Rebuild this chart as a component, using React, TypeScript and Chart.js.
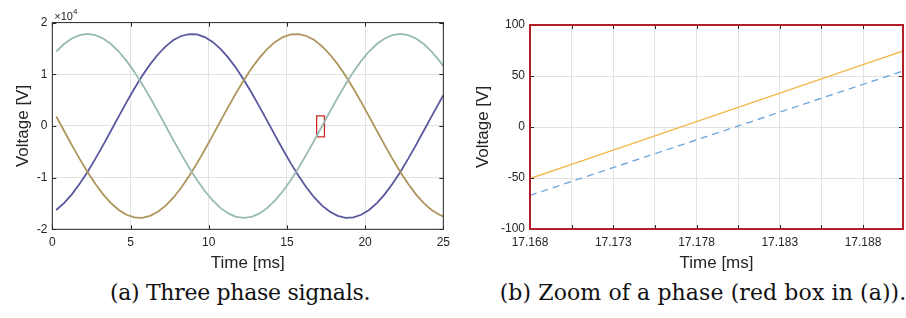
import React, { useEffect, useRef } from "react";
import { Chart, registerables } from "chart.js";
Chart.register(...registerables);

// ---------- (a) three phase signals ----------
const timeMs = [
  0.25, 0.75, 1.25, 1.75, 2.25, 2.75, 3.25, 3.75, 4.25, 4.75, 5.25, 5.75, 6.25, 6.75, 7.25, 7.75,
  8.25, 8.75, 9.25, 9.75, 10.25, 10.75, 11.25, 11.75, 12.25, 12.75, 13.25, 13.75, 14.25, 14.75,
  15.25, 15.75, 16.25, 16.75, 17.25, 17.75, 18.25, 18.75, 19.25, 19.75, 20.25, 20.75, 21.25,
  21.75, 22.25, 22.75, 23.25, 23.75, 24.25, 24.75, 25,
];
const phaseTeal = [
  14401, 15860, 16929, 17581, 17800, 17581, 16929, 15860, 14401, 12587, 10463, 8081, 5501, 2784, 0,
  -2784, -5501, -8081, -10463, -12587, -14401, -15860, -16929, -17581, -17800, -17581, -16929,
  -15860, -14401, -12587, -10463, -8081, -5501, -2784, 0, 2784, 5501, 8081, 10463, 12587, 14401,
  15860, 16929, 17581, 17800, 17581, 16929, 15860, 14401, 12587, 11559,
];
const phasePurple = [
  -16261, -14928, -13228, -11202, -8900, -6379, -3701, -932, 1861, 4607, 7240, 9695, 11911, 13833,
  15415, 16618, 17411, 17776, 17702, 17194, 16261, 14928, 13228, 11202, 8900, 6379, 3701, 932,
  -1861, -4607, -7240, -9695, -11911, -13833, -15415, -16618, -17411, -17776, -17702, -17194,
  -16261, -14928, -13228, -11202, -8900, -6379, -3701, -932, 1861, 4607, 5942,
];
const phaseBrown = [
  1861, -932, -3701, -6379, -8900, -11202, -13228, -14928, -16261, -17194, -17702, -17776, -17411,
  -16618, -15415, -13833, -11911, -9695, -7240, -4607, -1861, 932, 3701, 6379, 8900, 11202, 13228,
  14928, 16261, 17194, 17702, 17776, 17411, 16618, 15415, 13833, 11911, 9695, 7240, 4607, 1861,
  -932, -3701, -6379, -8900, -11202, -13228, -14928, -16261, -17194, -17503,
];
const redBoxT = [16.9, 17.4, 17.4, 16.9, 16.9];
const redBoxV = [-2100, -2100, 1950, 1950, -2100];
const aXTicks = [0, 5, 10, 15, 20, 25];
const aYTicks = [-20000, -10000, 0, 10000, 20000];

// ---------- (b) zoom ----------
const zoomTime = [17.168, 17.1705, 17.173, 17.1755, 17.178, 17.1805, 17.183, 17.1855, 17.188, 17.1905];
const zoomSolid = [-50.5, -36.6, -22.6, -8.7, 5.3, 19.2, 33.2, 47.1, 61.1, 75.0];
const zoomDashed = [-67, -53.4, -39.8, -26.2, -12.6, 1, 14.6, 28.2, 41.8, 55.4];
const zoomXTicks = [17.168, 17.1705, 17.173, 17.1755, 17.178, 17.1805, 17.183, 17.1855, 17.188];
const zoomXLabels = ["17.168", "", "17.173", "", "17.178", "", "17.183", "", "17.188"];
const zoomYTicks = [-100, -50, 0, 50, 100];

const FONT = "'Liberation Sans', Arial, sans-serif";
const TXT = "#262626";
const GRID = "#e2e2e2";

function pts(xs: number[], ys: number[]) {
  return xs.map((x, i) => ({ x, y: ys[i] }));
}

function framePlugin(color: string, lw: number, tickLen: number) {
  return {
    id: "frame",
    afterDatasetsDraw(chart: any) {
      const { ctx, chartArea: a, scales } = chart;
      ctx.save();
      ctx.strokeStyle = TXT;
      ctx.lineWidth = 1;
      ctx.beginPath();
      for (const t of scales.x.ticks) {
        const px = Math.round(scales.x.getPixelForValue(t.value)) + 0.5;
        ctx.moveTo(px, a.bottom);
        ctx.lineTo(px, a.bottom - tickLen);
        ctx.moveTo(px, a.top);
        ctx.lineTo(px, a.top + tickLen);
      }
      for (const t of scales.y.ticks) {
        const py = Math.round(scales.y.getPixelForValue(t.value)) + 0.5;
        ctx.moveTo(a.left, py);
        ctx.lineTo(a.left + tickLen, py);
        ctx.moveTo(a.right, py);
        ctx.lineTo(a.right - tickLen, py);
      }
      ctx.stroke();
      ctx.strokeStyle = color;
      ctx.lineWidth = lw;
      ctx.strokeRect(a.left, a.top, a.right - a.left, a.bottom - a.top);
      ctx.restore();
    },
  };
}

const exponentPlugin = {
  id: "exponent",
  afterDraw(chart: any) {
    const { ctx, chartArea: a } = chart;
    ctx.save();
    ctx.fillStyle = TXT;
    ctx.textBaseline = "alphabetic";
    ctx.font = `11px ${FONT}`;
    ctx.fillText("\u00d710", a.left + 2, a.top - 3);
    const w = ctx.measureText("\u00d710").width;
    ctx.font = `8px ${FONT}`;
    ctx.fillText("4", a.left + 2 + w, a.top - 9);
    ctx.restore();
  },
};

function baseScales(opts: {
  xMin: number; xMax: number; yMin: number; yMax: number;
  xTicks: number[]; xLabel: (v: number, i: number) => string;
  yTicks: number[]; yLabel: (v: number) => string;
  yWidth: number; xHeight: number; yTitlePad: number;
}) {
  return {
    x: {
      type: "linear",
      min: opts.xMin,
      max: opts.xMax,
      afterBuildTicks: (s: any) => { s.ticks = opts.xTicks.map((v) => ({ value: v })); },
      afterFit: (s: any) => { s.height = opts.xHeight; },
      grid: { color: GRID, drawTicks: false, lineWidth: 1 },
      border: { display: false },
      ticks: {
        autoSkip: false, maxRotation: 0, padding: 6, color: TXT,
        font: { family: FONT, size: 12 },
        callback: (v: any, i: number) => opts.xLabel(v, i),
      },
      title: { display: true, text: "Time [ms]", color: TXT, font: { family: FONT, size: 17 }, padding: { top: 0, bottom: 4.5 } },
    },
    y: {
      type: "linear",
      min: opts.yMin,
      max: opts.yMax,
      afterBuildTicks: (s: any) => { s.ticks = opts.yTicks.map((v) => ({ value: v })); },
      afterFit: (s: any) => { s.width = opts.yWidth; },
      grid: { color: GRID, drawTicks: false, lineWidth: 1 },
      border: { display: false },
      ticks: {
        autoSkip: false, padding: 5, color: TXT,
        font: { family: FONT, size: 12 },
        callback: (v: any) => opts.yLabel(v),
      },
      title: { display: true, text: "Voltage [V]", color: TXT, font: { family: FONT, size: 17 }, padding: { top: opts.yTitlePad, bottom: 0 } },
    },
  };
}

function ChartA() {
  const ref = useRef<HTMLCanvasElement>(null);
  useEffect(() => {
    const line = (data: number[], color: string) => ({
      data: pts(timeMs, data), borderColor: color, borderWidth: 1.8, pointRadius: 0, tension: 0, fill: false,
    });
    const chart = new Chart(ref.current!, {
      type: "line",
      data: {
        datasets: [
          line(phaseTeal, "rgb(152,186,176)"),
          line(phaseBrown, "rgb(172,150,92)"),
          line(phasePurple, "rgb(88,88,158)"),
          { data: pts(redBoxT, redBoxV), borderColor: "rgb(205,40,40)", borderWidth: 1.3, pointRadius: 0, tension: 0, fill: false },
        ],
      } as any,
      options: {
        responsive: false,
        animation: false,
        devicePixelRatio: 1,
        layout: { padding: { left: 0, right: 10, top: 22.6, bottom: 0 } },
        plugins: { legend: { display: false }, tooltip: { enabled: false } },
        scales: baseScales({
          xMin: 0, xMax: 25, yMin: -20000, yMax: 20000,
          xTicks: aXTicks, xLabel: (v) => String(v),
          yTicks: aYTicks, yLabel: (v) => String(v / 10000),
          yWidth: 52.3, xHeight: 48.7, yTitlePad: 12.8,
        }) as any,
      },
      plugins: [framePlugin(TXT, 1, 4), exponentPlugin],
    });
    return () => chart.destroy();
  }, []);
  return <canvas ref={ref} width={456} height={278} style={{ position: "absolute", left: 0, top: 0 }} />;
}

function ChartB() {
  const ref = useRef<HTMLCanvasElement>(null);
  useEffect(() => {
    const chart = new Chart(ref.current!, {
      type: "line",
      data: {
        datasets: [
          { data: pts(zoomTime, zoomSolid), borderColor: "rgb(242,184,70)", borderWidth: 1.4, pointRadius: 0, tension: 0, fill: false },
          { data: pts(zoomTime, zoomDashed), borderColor: "rgb(115,168,222)", borderWidth: 1.4, borderDash: [7, 5], pointRadius: 0, tension: 0, fill: false },
        ],
      } as any,
      options: {
        responsive: false,
        animation: false,
        devicePixelRatio: 1,
        layout: { padding: { left: 0, right: 3, top: 25, bottom: 0 } },
        plugins: { legend: { display: false }, tooltip: { enabled: false } },
        scales: baseScales({
          xMin: 17.168, xMax: 17.1904, yMin: -100, yMax: 100,
          xTicks: zoomXTicks, xLabel: (_v, i) => zoomXLabels[i],
          yTicks: zoomYTicks, yLabel: (v) => String(v),
          yWidth: 70, xHeight: 49, yTitlePad: 13.3,
        }) as any,
      },
      plugins: [framePlugin("rgb(180,28,40)", 2, 4)],
    });
    return () => chart.destroy();
  }, []);
  return <canvas ref={ref} width={446} height={278} style={{ position: "absolute", left: 460, top: 0 }} />;
}

const captionStyle: React.CSSProperties = {
  position: "absolute",
  top: 282.4,
  fontFamily: "'DejaVu Serif', serif",
  fontSize: 22,
  lineHeight: "22px",
  color: "#111",
  whiteSpace: "nowrap",
  textAlign: "center",
};

export default function App() {
  return (
    <div style={{ position: "absolute", left: 0, top: 0, width: 906, height: 318, background: "#fff", overflow: "hidden" }}>
      <ChartA />
      <ChartB />
      <div style={{ ...captionStyle, left: 40, width: 400, letterSpacing: "-0.3px" }}>(a) Three phase signals.</div>
      <div style={{ ...captionStyle, left: 453, width: 500, letterSpacing: "0.1px" }}>(b) Zoom of a phase (red box in (a)).</div>
    </div>
  );
}
